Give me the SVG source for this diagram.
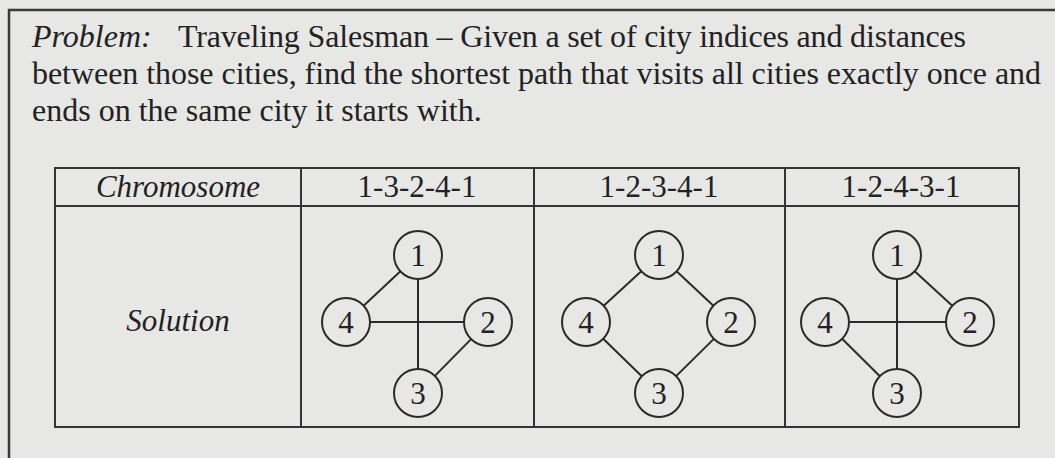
<svg xmlns="http://www.w3.org/2000/svg" width="1055" height="458" viewBox="0 0 1055 458">
<style>
text{font-family:"Liberation Serif","Times New Roman",serif;fill:#222;font-size:31px}
.p{font-size:32px}
.it{font-style:italic}
.c{text-anchor:middle}
.frame{fill:none;stroke:#3a3a3a;stroke-width:2.5}
.grid{fill:none;stroke:#333;stroke-width:2}
.node circle{fill:none;stroke:#2a2a2a;stroke-width:2}
.edge{stroke:#2a2a2a;stroke-width:2;fill:none}
</style>
<rect width="1055" height="458" fill="#e7e7e5"/>
<rect class="frame" x="9" y="10" width="1070" height="480"/>
<g id="problem">
<text class="p" x="32" y="47"><tspan class="it">Problem:</tspan><tspan x="178" textLength="788" lengthAdjust="spacing">Traveling Salesman – Given a set of city indices and distances</tspan></text>
<text class="p" x="32" y="84" textLength="1009" lengthAdjust="spacing">between those cities, find the shortest path that visits all cities exactly once and</text>
<text class="p" x="32" y="121">ends on the same city it starts with.</text>
</g>
<g id="table">
<rect class="grid" x="55" y="168" width="964" height="259"/>
<line class="grid" x1="55" y1="206" x2="1019" y2="206"/>
<line class="grid" x1="301" y1="168" x2="301" y2="427"/>
<line class="grid" x1="534" y1="168" x2="534" y2="427"/>
<line class="grid" x1="785" y1="168" x2="785" y2="427"/>
<text class="it c" x="178" y="197">Chromosome</text>
<text class="c" x="417" y="197">1-3-2-4-1</text>
<text class="c" x="659" y="197">1-2-3-4-1</text>
<text class="c" x="901" y="197">1-2-4-3-1</text>
<text class="it c" x="178" y="331">Solution</text>
</g>
<g id="connectors">
<line class="edge" x1="418" y1="279" x2="418" y2="369"/>
<line class="edge" x1="434.9" y1="375.9" x2="471.1" y2="339.1"/>
<line class="edge" x1="370" y1="322" x2="464" y2="322"/>
<line class="edge" x1="363.6" y1="305.7" x2="400.4" y2="271.3"/>
<line class="edge" x1="676.6" y1="271.3" x2="713.4" y2="305.7"/>
<line class="edge" x1="713.9" y1="338.9" x2="676.1" y2="376.1"/>
<line class="edge" x1="641.8" y1="376.3" x2="603.2" y2="338.7"/>
<line class="edge" x1="603.7" y1="305.8" x2="641.3" y2="271.2"/>
<line class="edge" x1="914.7" y1="271.2" x2="952.3" y2="305.8"/>
<line class="edge" x1="849" y1="322" x2="946" y2="322"/>
<line class="edge" x1="842.1" y1="338.8" x2="879.9" y2="376.2"/>
<line class="edge" x1="897" y1="279" x2="897" y2="369"/>
</g>
<g id="g1n1" class="node"><circle cx="418" cy="255" r="24"/><text class="c" x="418" y="266">1</text></g>
<g id="g1n2" class="node"><circle cx="488" cy="322" r="24"/><text class="c" x="488" y="333">2</text></g>
<g id="g1n3" class="node"><circle cx="418" cy="393" r="24"/><text class="c" x="418" y="404">3</text></g>
<g id="g1n4" class="node"><circle cx="346" cy="322" r="24"/><text class="c" x="346" y="333">4</text></g>
<g id="g2n1" class="node"><circle cx="659" cy="255" r="24"/><text class="c" x="659" y="266">1</text></g>
<g id="g2n2" class="node"><circle cx="731" cy="322" r="24"/><text class="c" x="731" y="333">2</text></g>
<g id="g2n3" class="node"><circle cx="659" cy="393" r="24"/><text class="c" x="659" y="404">3</text></g>
<g id="g2n4" class="node"><circle cx="586" cy="322" r="24"/><text class="c" x="586" y="333">4</text></g>
<g id="g3n1" class="node"><circle cx="897" cy="255" r="24"/><text class="c" x="897" y="266">1</text></g>
<g id="g3n2" class="node"><circle cx="970" cy="322" r="24"/><text class="c" x="970" y="333">2</text></g>
<g id="g3n3" class="node"><circle cx="897" cy="393" r="24"/><text class="c" x="897" y="404">3</text></g>
<g id="g3n4" class="node"><circle cx="825" cy="322" r="24"/><text class="c" x="825" y="333">4</text></g>
</svg>
